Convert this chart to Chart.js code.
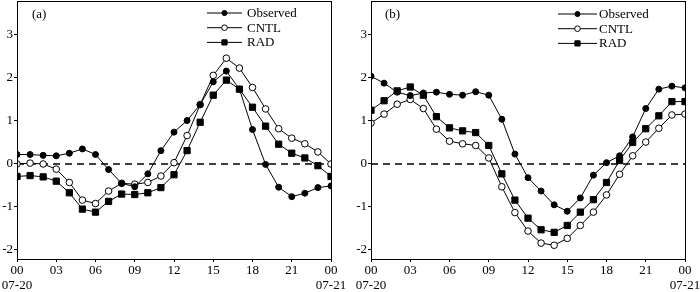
<!DOCTYPE html>
<html><head><meta charset="utf-8">
<script src="https://cdn.jsdelivr.net/npm/chart.js@4.4.1/dist/chart.umd.min.js"></script>
<style>
body{margin:0;background:#fff;width:700px;height:292px;overflow:hidden;position:relative}
.w{position:absolute;top:0;width:350px;height:292px}
#wa{left:0}#wb{left:350px}
</style></head><body>
<div class="w" id="wa"><canvas id="ca" width="350" height="292"></canvas></div>
<div class="w" id="wb"><canvas id="cb" width="350" height="292"></canvas></div>
<script>
// hours since 00 on 07-20
const hours = [0,1,2,3,4,5,6,7,8,9,10,11,12,13,14,15,16,17,18,19,20,21,22,23,24];
const xTicks = [0,3,6,9,12,15,18,21,24];
const xTickLabels = ['00','03','06','09','12','15','18','21','00'];
const startDate = '07-20';
const endDate = '07-21';
const yTicks = [-2,-1,0,1,2,3];
const seriesNames = ['Observed','CNTL','RAD'];

// panel (a)
const obsA  = [0.22,0.22,0.20,0.19,0.25,0.35,0.22,-0.13,-0.45,-0.53,-0.23,0.31,0.74,1.01,1.38,1.91,2.16,1.74,0.80,-0.01,-0.54,-0.76,-0.68,-0.55,-0.51];
const cntlA = [0.00,0.02,0.00,-0.12,-0.43,-0.84,-0.92,-0.63,-0.45,-0.47,-0.43,-0.28,0.03,0.66,1.38,2.06,2.46,2.23,1.78,1.28,0.82,0.60,0.47,0.28,0.00];
const radA  = [-0.29,-0.27,-0.30,-0.40,-0.67,-1.05,-1.12,-0.87,-0.70,-0.71,-0.67,-0.55,-0.25,0.31,0.97,1.60,1.95,1.74,1.32,0.88,0.46,0.25,0.14,-0.04,-0.29];

// panel (b)
const obsB  = [2.04,1.88,1.67,1.59,1.65,1.67,1.62,1.60,1.68,1.60,1.04,0.23,-0.32,-0.63,-0.95,-1.10,-0.79,-0.26,0.03,0.19,0.63,1.29,1.74,1.81,1.77];
const cntlB = [0.95,1.16,1.39,1.50,1.29,0.81,0.53,0.47,0.43,0.14,-0.53,-1.13,-1.56,-1.84,-1.89,-1.73,-1.43,-1.12,-0.72,-0.24,0.19,0.51,0.83,1.14,1.16];
const radB  = [1.25,1.47,1.70,1.79,1.60,1.10,0.84,0.77,0.73,0.43,-0.23,-0.84,-1.26,-1.53,-1.59,-1.43,-1.12,-0.83,-0.43,0.08,0.50,0.82,1.12,1.45,1.45];

const zeroLine = [0,0];
const zeroX = [0,24];

const FONT = '"Liberation Serif","DejaVu Serif",serif';
Chart.defaults.font.family = FONT;
Chart.defaults.color = '#000';

const styles = [
  {pointStyle:'circle', radius:3, bg:'#000', border:'#000'},
  {pointStyle:'circle', radius:3.3, bg:'#fff', border:'#000'},
  {pointStyle:'rect', radius:4.4, bg:'#000', border:'#000'}
];

function ds(name, vals, st){
  return {
    label:name,
    data: hours.map((h,i)=>({x:h,y:vals[i]})),
    borderColor:'#000', borderWidth:1,
    pointStyle:st.pointStyle, pointRadius:st.radius,
    pointBackgroundColor:st.bg, pointBorderColor:st.border, pointBorderWidth:1,
    pointHoverRadius:st.radius, tension:0, order:1
  };
}

const boxPlugin = {
  id:'panelBox',
  afterDraw(chart, args, opts){
    const {ctx, chartArea:a} = chart;
    ctx.save();
    ctx.strokeStyle = '#000'; ctx.lineWidth = 1;
    ctx.strokeRect(Math.round(a.left)+0.5, Math.round(a.top)+0.5, Math.round(a.right-a.left), Math.round(a.bottom-a.top));
    // panel label
    ctx.font = '13px ' + FONT; ctx.fillStyle = '#000';
    ctx.textBaseline = 'middle'; ctx.textAlign = 'left';
    ctx.fillText(opts.label, a.left + opts.labelDx, a.top + 14);
    // legend
    const x0 = opts.legX, x1 = opts.legX + opts.legLen, mx = (x0+x1)/2;
    seriesNames.forEach((n, i) => {
      const y = opts.legY + i*14.7;
      const st = styles[i];
      ctx.beginPath(); ctx.moveTo(x0, y); ctx.lineTo(x1, y);
      ctx.lineWidth = 1; ctx.strokeStyle = '#000'; ctx.stroke();
      ctx.beginPath();
      if (st.pointStyle === 'rect') {
        ctx.rect(mx-2.6, y-2.6, 5.2, 5.2);
      } else {
        ctx.arc(mx, y, st.radius*0.85, 0, Math.PI*2);
      }
      ctx.fillStyle = st.bg; ctx.fill(); ctx.stroke();
      ctx.fillStyle = '#000';
      ctx.fillText(n, x1 + opts.gap, y + 0.5);
    });
    ctx.restore();
  }
};

function makeChart(id, obs, cntl, rad, opt){
  return new Chart(document.getElementById(id), {
    type:'line',
    data:{datasets:[
      {label:'zero', data: zeroX.map((x,i)=>({x:x,y:zeroLine[i]})), borderColor:'#000', borderWidth:1.6,
       borderDash:[7,5], pointRadius:0, pointHoverRadius:0, order:2},
      ds(seriesNames[0], obs, styles[0]),
      ds(seriesNames[1], cntl, styles[1]),
      ds(seriesNames[2], rad, styles[2])
    ]},
    options:{
      responsive:false, animation:false,
      layout:{autoPadding:false, padding:{left:0, right:opt.padRight, top:1, bottom:0}},
      plugins:{legend:{display:false}, tooltip:{enabled:false}, panelBox:opt.box},
      scales:{
        x:{type:'linear', min:0, max:24,
          afterBuildTicks: s => { s.ticks = xTicks.map(v=>({value:v})); },
          afterFit: s => { s.height = 33; s.paddingRight = 0; s.paddingLeft = 0; },
          grid:{display:true, drawOnChartArea:false, drawTicks:true, tickLength:3, color:'#000'},
          border:{display:false},
          ticks:{autoSkip:false, maxRotation:0, padding:1, font:{size:13, lineHeight:1.15},
            callback:(v, i) => {
              const k = xTicks.indexOf(v);
              const lab = xTickLabels[k];
              if (k === 0) return [lab, startDate];
              if (k === xTicks.length-1) return [lab, endDate];
              return lab;
            }}
        },
        y:{type:'linear', min:-2.21, max:3.79,
          afterBuildTicks: s => { s.ticks = yTicks.map(v=>({value:v})); },
          afterFit: s => { s.width = opt.yWidth; s.paddingTop = 0; s.paddingBottom = 0; },
          grid:{display:true, drawOnChartArea:false, drawTicks:true, tickLength:3, color:'#000'},
          border:{display:false},
          ticks:{padding:1, font:{size:13}, callback:v=>String(v)}
        }
      }
    },
    plugins:[boxPlugin]
  });
}

makeChart('ca', obsA, cntlA, radA, {padRight:19, yWidth:17,
  box:{label:'(a)', labelDx:15, legX:207, legLen:35, gap:5, legY:13}});
makeChart('cb', obsB, cntlB, radB, {padRight:15, yWidth:21,
  box:{label:'(b)', labelDx:14, legX:208, legLen:39, gap:2, legY:14}});
</script>
</body></html>
